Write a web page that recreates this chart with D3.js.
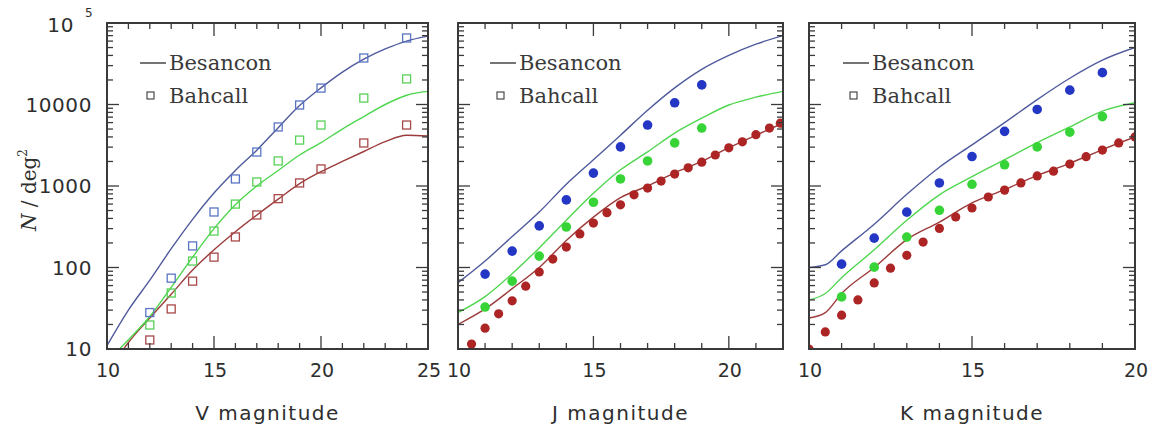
<!DOCTYPE html>
<html>
<head>
<meta charset="utf-8">
<script src="https://cdn.jsdelivr.net/npm/d3@7"></script>
<style>
body{margin:0;background:#fff}
</style>
</head>
<body>
<div id="chart"></div>
<script>
// Besancon model curves, V band
var vLineMag   = [10,11,12,13,14,15,16,17,18,19,20,21,22,23,24,25]
var vLineBlue  = [11,30,70,170,390,820,1550,2750,5200,9700,16000,25000,36000,48000,60000,69000]
var vLineGreen = [7,13,25,57,134,300,590,1000,1550,2400,3400,5000,7100,10000,13000,14500]
var vLineRed   = [5,12,24,47,93,165,275,440,690,1070,1500,2000,2650,3500,4200,4100]
// Bahcall counts, V band (open squares)
var vPtMag   = [12,13,14,15,16,17,18,19,20,22,24]
var vPtBlue  = [28,74,184,480,1220,2610,5300,9860,15900,37200,65500]
var vPtGreen = [19.7,48.6,120,280,600,1120,2030,3660,5600,12000,20600]
var vPtRed   = [12.9,31,68,134,237,441,700,1090,1620,3370,5600]

// J band
var jLineMag   = [10,11,12,13,14,15,16,17,18,19,20,21,22]
var jLineBlue  = [65,120,240,480,1050,2100,4200,8500,16000,27000,40000,55000,70000]
var jLineGreen = [28,44,84,174,380,813,1580,2620,4460,6800,9860,12300,14500]
var jLineRed   = [20,31,55,100,215,415,720,1000,1450,2000,2950,4200,5900]
var jPtMag   = [11,12,13,14,15,16,17,18,19]
var jPtBlue  = [83,159,324,675,1440,3020,5600,10500,17400]
var jPtGreen = [32.7,68,138,314,632,1220,2030,3380,5140]
var jRedMag  = [10.5,11,11.5,12,12.5,13,13.5,14,14.5,15,15.5,16,16.5,17,17.5,18,18.5,19,19.5,20,20.5,21,21.5,21.9]
var jPtRed   = [11.5,18,27,39,59,88,127,178,258,351,470,587,780,944,1150,1400,1670,1960,2400,2940,3480,4260,5140,5900]

// K band
var kLineMag   = [10,10.5,11,12,13,14,15,16,17,18,19,20]
var kLineBlue  = [100,108,160,340,790,1700,3200,6000,11500,21000,35000,50000]
var kLineGreen = [40,48,75,165,380,780,1300,2100,3400,5300,8300,10500]
var kLineRed   = [24,28,48,100,220,360,620,900,1350,1900,2800,4000]
var kPtMag   = [11,12,13,14,15,16,17,18,19]
var kPtBlue  = [110,229,478,1090,2300,4680,8700,15000,24600]
var kPtGreen = [43.6,101,236,503,1050,1820,3020,4570,7100]
var kRedMag  = [10,10.5,11,11.5,12,12.5,13,13.5,14,14.5,15,15.5,16,16.5,17,17.5,18,18.5,19,19.5,20]
var kPtRed   = [10,16.2,26,40,64.6,98,141,205,302,417,537,733,890,1090,1330,1520,1860,2290,2760,3380,4000]

var yTickLabels = ['10','100','1000','10000']
var legendNames = ['Besancon','Bahcall']

var lineColors = {blue:'#4f5a9c', green:'#4fd64f', red:'#9c3b3b'}
var sqColors   = {blue:'#5a74c4', green:'#58d058', red:'#a84848'}
var dotColors  = {blue:'#2436c4', green:'#36d436', red:'#ad2424'}

var panels = [
  {x0:107, x1:428, dom:[10,25], ticks:[10,15,20,25], title:'V magnitude', legendX:140,
   lines:{mag:vLineMag, blue:vLineBlue, green:vLineGreen, red:vLineRed},
   pts:[{mag:vPtMag, v:vPtBlue, c:'blue'},{mag:vPtMag, v:vPtGreen, c:'green'},{mag:vPtMag, v:vPtRed, c:'red'}],
   square:true},
  {x0:458, x1:783, dom:[10,22], ticks:[10,15,20], title:'J magnitude', legendX:490,
   lines:{mag:jLineMag, blue:jLineBlue, green:jLineGreen, red:jLineRed},
   pts:[{mag:jPtMag, v:jPtBlue, c:'blue'},{mag:jPtMag, v:jPtGreen, c:'green'},{mag:jRedMag, v:jPtRed, c:'red'}],
   square:false},
  {x0:809, x1:1135, dom:[10,20], ticks:[10,15,20], title:'K magnitude', legendX:843,
   lines:{mag:kLineMag, blue:kLineBlue, green:kLineGreen, red:kLineRed},
   pts:[{mag:kPtMag, v:kPtBlue, c:'blue'},{mag:kPtMag, v:kPtGreen, c:'green'},{mag:kRedMag, v:kPtRed, c:'red'}],
   square:false}
]

var yTop = 23, yBot = 349
var frameColor = '#3a3a3a'
var textColor = '#2e2e2e'
var svg = d3.select('#chart').append('svg')
            .attr('width', 1151)
            .attr('height', 429)
var y = d3.scaleLog().domain([10,1e5]).range([yBot,yTop])

panels.forEach((p,pi)=>{
	var x = d3.scaleLinear().domain(p.dom).range([p.x0,p.x1])
	var g = svg.append('g').attr('class','panel')

	svg.append('clipPath').attr('id','clip'+pi)
	   .append('rect').attr('x',p.x0).attr('y',yTop).attr('width',p.x1-p.x0).attr('height',yBot-yTop)

	// data
	var data = g.append('g').attr('clip-path','url(#clip'+pi+')')
	var line = d3.line().curve(d3.curveMonotoneX)
	;['red','green','blue'].forEach(c=>{
		data.append('path')
		    .attr('d', line(p.lines.mag.map((m,i)=>[x(m), y(p.lines[c][i])])))
		    .attr('fill','none').attr('stroke',lineColors[c]).attr('stroke-width',1.4)
	})
	p.pts.forEach(s=>{
		if(p.square){
			data.selectAll(null).data(s.mag).enter().append('rect')
			    .attr('x',(m)=>x(m)-4).attr('y',(m,i)=>y(s.v[i])-4)
			    .attr('width',8).attr('height',8)
			    .attr('fill','none').attr('stroke',sqColors[s.c]).attr('stroke-width',1.3)
		} else {
			data.selectAll(null).data(s.mag).enter().append('circle')
			    .attr('cx',(m)=>x(m)).attr('cy',(m,i)=>y(s.v[i]))
			    .attr('r', s.c==='red'?4.6:4.8)
			    .attr('fill',dotColors[s.c])
		}
	})

	// frame + ticks
	g.append('rect').attr('x',p.x0).attr('y',yTop).attr('width',p.x1-p.x0).attr('height',yBot-yTop)
	 .attr('fill','none').attr('stroke',frameColor).attr('stroke-width',2)
	var tk = g.append('g').attr('stroke',frameColor).attr('stroke-width',1.3)
	d3.range(p.dom[0]+1, p.dom[1], 1).forEach(m=>{
		var len = m%5===0 ? 13 : 6
		tk.append('line').attr('x1',x(m)).attr('x2',x(m)).attr('y1',yBot).attr('y2',yBot-len)
		tk.append('line').attr('x1',x(m)).attr('x2',x(m)).attr('y1',yTop).attr('y2',yTop+len)
	})
	;[10,100,1000,10000].forEach(d=>{
		d3.range(1,10).forEach(k=>{
			var v = k*d
			if(v<=10 || v>=1e5) return
			var len = k===1 ? 12 : 6
			tk.append('line').attr('x1',p.x0).attr('x2',p.x0+len).attr('y1',y(v)).attr('y2',y(v))
			tk.append('line').attr('x1',p.x1).attr('x2',p.x1-len).attr('y1',y(v)).attr('y2',y(v))
		})
	})

	// x tick labels
	g.selectAll(null).data(p.ticks).enter().append('text')
	 .attr('x',d=>x(d)+1).attr('y',377)
	 .attr('text-anchor','middle')
	 .style('font-family','"DejaVu Sans"').style('font-size','19px').style('fill',textColor)
	 .text(d=>d)

	// axis title
	g.append('text').attr('x',(p.x0+p.x1)/2).attr('y',420)
	 .attr('text-anchor','middle')
	 .style('font-family','"DejaVu Sans"').style('font-size','20px').style('letter-spacing','1.5px')
	 .style('fill',textColor)
	 .text(p.title)

	// legend
	var lg = g.append('g').style('font-family','"DejaVu Serif"').style('font-size','21px').style('fill','#3a3a3a')
	lg.append('line').attr('x1',p.legendX).attr('x2',p.legendX+26).attr('y1',63).attr('y2',63)
	  .attr('stroke','#3a3a3a').attr('stroke-width',1.4)
	lg.append('text').attr('x',p.legendX+29).attr('y',70).text(legendNames[0])
	lg.append('rect').attr('x',p.legendX+7).attr('y',92).attr('width',7).attr('height',7)
	  .attr('fill','none').attr('stroke','#3a3a3a').attr('stroke-width',1.1)
	lg.append('text').attr('x',p.legendX+29).attr('y',103).text(legendNames[1])

	if(pi===0){
		g.selectAll(null).data(yTickLabels).enter().append('text')
		 .attr('x',92).attr('y',d=>y(+d)+7)
		 .attr('text-anchor','end')
		 .style('font-family','"DejaVu Sans"').style('font-size','20px').style('letter-spacing','0.6px')
		 .style('fill',textColor)
		 .text(d=>d)
		g.append('text').attr('x',74).attr('y',y(1e5)+9).attr('text-anchor','end')
		 .style('font-family','"DejaVu Sans"').style('font-size','20px').style('letter-spacing','0.6px')
		 .style('fill',textColor).text('10')
		g.append('text').attr('x',85).attr('y',y(1e5)-6)
		 .style('font-family','"DejaVu Sans"').style('font-size','12px').style('fill',textColor).text('5')
		var yl = g.append('text').attr('transform','translate(36,190) rotate(-90)')
		 .attr('text-anchor','middle')
		 .style('font-family','"DejaVu Serif"').style('font-size','20px').style('fill',textColor)
		yl.append('tspan').style('font-style','italic').text('N')
		yl.append('tspan').text(' / deg')
		yl.append('tspan').attr('dy',-9).style('font-size','12px').text('2')
	}
})
</script>
</body>
</html>
